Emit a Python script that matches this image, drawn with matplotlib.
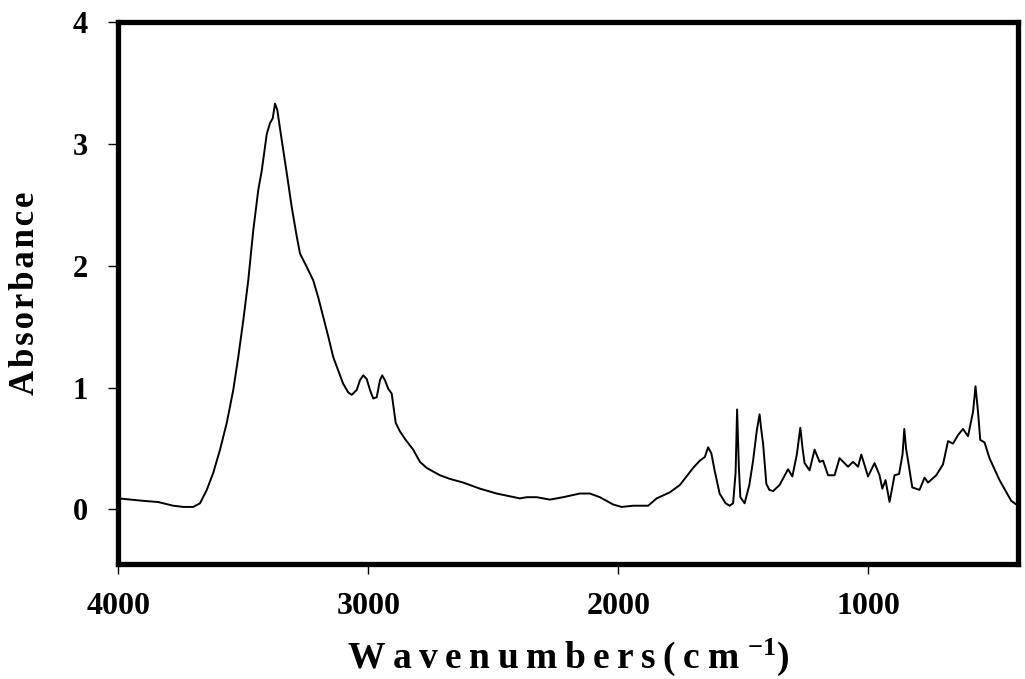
import matplotlib
matplotlib.use("Agg")
import matplotlib.pyplot as plt

wavenumber = [4000, 3900, 3840, 3780, 3740, 3700, 3673, 3646, 3620, 3593, 3566, 3540,
              3520, 3500, 3480, 3460, 3440, 3426, 3406, 3393, 3382, 3373, 3364, 3346,
              3326, 3306, 3286, 3273, 3246, 3220, 3200, 3180, 3160, 3140, 3120, 3100,
              3080, 3066, 3046, 3033, 3020, 3006, 2993, 2980, 2966, 2953, 2944, 2933,
              2920, 2906, 2900, 2890, 2873, 2850, 2820, 2793, 2766, 2713, 2673, 2620,
              2553, 2486, 2393, 2366, 2326, 2273, 2220, 2153, 2113, 2073, 2020, 1986,
              1940, 1880, 1846, 1793, 1753, 1700, 1673, 1653, 1640, 1627, 1614, 1594,
              1570, 1554, 1540, 1530, 1524, 1517, 1511, 1494, 1475, 1460, 1445, 1434,
              1427, 1420, 1407, 1395, 1380, 1354, 1320, 1303, 1285, 1271, 1262, 1254,
              1234, 1214, 1194, 1180, 1160, 1134, 1114, 1080, 1060, 1040, 1027, 1000,
              974, 954, 943, 930, 914, 894, 876, 862, 855, 848, 840, 823, 794, 774,
              760, 727, 700, 680, 660, 640, 620, 600, 580, 570, 560, 551, 534, 514,
              474, 427, 400]
absorbance = [0.09, 0.07, 0.06, 0.03, 0.02, 0.02, 0.05, 0.16, 0.30, 0.49, 0.71, 0.98,
              1.25, 1.55, 1.88, 2.29, 2.62, 2.78, 3.08, 3.17, 3.21, 3.33, 3.28, 3.03,
              2.76, 2.48, 2.24, 2.10, 1.99, 1.88, 1.74, 1.58, 1.42, 1.25, 1.14, 1.03,
              0.96, 0.94, 0.98, 1.06, 1.10, 1.07, 0.98, 0.91, 0.92, 1.06, 1.10, 1.06,
              0.99, 0.95, 0.86, 0.71, 0.64, 0.57, 0.49, 0.39, 0.34, 0.28, 0.25, 0.22,
              0.17, 0.13, 0.09, 0.10, 0.10, 0.08, 0.10, 0.13, 0.13, 0.10, 0.04, 0.02,
              0.03, 0.03, 0.09, 0.14, 0.20, 0.34, 0.40, 0.43, 0.51, 0.46, 0.32, 0.13,
              0.05, 0.03, 0.05, 0.30, 0.82, 0.35, 0.10, 0.05, 0.20, 0.40, 0.65, 0.78,
              0.65, 0.54, 0.21, 0.16, 0.15, 0.20, 0.33, 0.27, 0.45, 0.67, 0.50, 0.38,
              0.32, 0.49, 0.39, 0.40, 0.28, 0.28, 0.42, 0.35, 0.39, 0.35, 0.45, 0.27,
              0.38, 0.28, 0.17, 0.24, 0.06, 0.28, 0.29, 0.45, 0.66, 0.50, 0.40, 0.18,
              0.16, 0.26, 0.22, 0.28, 0.37, 0.56, 0.54, 0.61, 0.66, 0.60, 0.80, 1.01,
              0.80, 0.57, 0.55, 0.42, 0.24, 0.07, 0.03]

x_ticks = [4000, 3000, 2000, 1000]
y_ticks = [0, 1, 2, 3, 4]
x_title = "Wavenumbers(cm"
y_title = "Absorbance"

plt.rcParams['font.family'] = ['Liberation Serif', 'DejaVu Serif']
plt.rcParams['font.weight'] = 'bold'
plt.rcParams['mathtext.fontset'] = 'custom'
plt.rcParams['mathtext.rm'] = 'Liberation Serif:bold'
plt.rcParams['mathtext.bf'] = 'Liberation Serif:bold'
plt.rcParams['mathtext.it'] = 'Liberation Serif:bold'

fig = plt.figure(figsize=(10.25, 6.79), dpi=100)
ax = fig.add_axes([118.3/1025, 1-564.2/679, (1018-118.3)/1025, (564.2-22)/679])
ax.plot(wavenumber, absorbance, color='black', linewidth=1.4)
ax.set_xlim(4000, 400)
ax.set_ylim(-0.45, 4)
ax.set_xticks(x_ticks)
ax.set_yticks(y_ticks)
ax.set_xticklabels([str(v) for v in x_ticks], fontsize=23, fontweight='bold')
ax.set_yticklabels([str(v) for v in y_ticks], fontsize=22, fontweight='bold')
ax.tick_params(direction='out', length=7, width=1)
ax.tick_params(axis='x', pad=13)
ax.tick_params(axis='y', pad=15)
for s in ax.spines.values():
    s.set_linewidth(3.8)
ax.set_xlabel('\u2009'.join(x_title) + ' $^{-1}$)', fontsize=27, fontweight='bold', labelpad=11)
ax.set_ylabel('\u200a'.join(y_title), fontsize=25, fontweight='bold', labelpad=22)
fig.savefig('out.png', dpi=100)
